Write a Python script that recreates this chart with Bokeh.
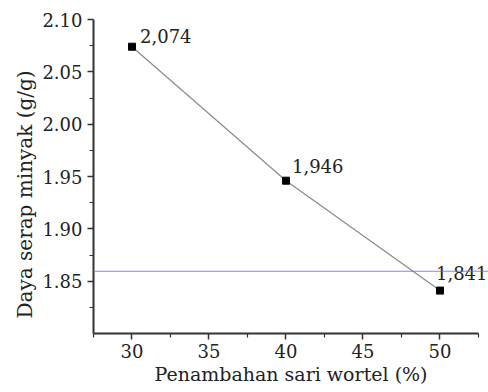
from bokeh.plotting import figure
from bokeh.models import FixedTicker, ColumnDataSource, BoxAnnotation, NumeralTickFormatter, Title
from bokeh.core.properties import value
from bokeh.embed import file_html
from bokeh.resources import INLINE

# data
wortel = [30, 40, 50]
daya_serap = [2.074, 1.946, 1.841]
labels = ["2,074", "1,946", "1,841"]
x_ticks = [30, 35, 40, 45, 50]
x_minor = [27.5, 32.5, 37.5, 42.5, 47.5, 52.5]
y_ticks = [1.85, 1.90, 1.95, 2.00, 2.05, 2.10]
y_minor = [1.825, 1.875, 1.925, 1.975, 2.025, 2.075]
stray_line_y = 1.8595

# label placement (screen pixels)
label_dx = [8, 6, -4]
label_dy = [-4, -8, -11]

FONT = "DejaVu Serif"
TXT = "#222222"

p = figure(width=488, height=392, output_backend="svg", toolbar_location=None,
           x_range=(27.5, 53.15), y_range=(1.80, 2.10),
           min_border_left=93, min_border_right=0, min_border_top=19, min_border_bottom=59)
p.outline_line_color = None
p.grid.visible = False
p.background_fill_color = "white"
p.border_fill_color = "white"

src = ColumnDataSource(dict(x=wortel, y=daya_serap, t=labels, dx=label_dx, dy=label_dy))
p.line("x", "y", source=src, line_color="#8a8a8a", line_width=1.2)
p.scatter("x", "y", source=src, marker="square", size=7, fill_color="black", line_color="black")
p.text("x", "y", text="t", source=src, x_offset="dx", y_offset="dy",
       text_font=value(FONT), text_font_size="18px", text_color=TXT,
       text_baseline="bottom", text_align="left")

for ax in (p.xaxis[0], p.yaxis[0]):
    ax.axis_line_color = "#333333"
    ax.axis_line_width = 2
    ax.major_tick_line_color = "#333333"
    ax.minor_tick_line_color = "#333333"
    ax.major_tick_line_width = 1.5
    ax.minor_tick_line_width = 1.2
    ax.major_tick_in = 0
    ax.major_tick_out = 6
    ax.minor_tick_in = 0
    ax.minor_tick_out = 4
    ax.major_label_text_font = FONT
    ax.major_label_text_font_size = "18px"
    ax.major_label_text_color = TXT
    ax.axis_label_text_font = FONT
    ax.axis_label_text_font_size = "19px"
    ax.axis_label_text_font_style = "normal"
    ax.axis_label_text_color = TXT

p.xaxis.bounds = (27.5, 52.5)
p.xaxis.ticker = FixedTicker(ticks=x_ticks, minor_ticks=x_minor)
p.yaxis.ticker = FixedTicker(ticks=y_ticks, minor_ticks=y_minor)
p.yaxis.formatter = NumeralTickFormatter(format="0.00")
p.xaxis.axis_label = "Penambahan sari wortel (%)"
p.xaxis.major_label_standoff = 4
p.yaxis.major_label_standoff = 5
p.xaxis.axis_label_standoff = 2

ytitle = Title(text="Daya serap minyak (g/g)", align="left", offset=15,
               text_font=FONT, text_font_size="20px", text_font_style="normal",
               text_color=TXT, standoff=6)
p.add_layout(ytitle, "left")

stray = BoxAnnotation(left=0, right=488, left_units="canvas", right_units="canvas",
                      top=stray_line_y + 0.0005, bottom=stray_line_y - 0.0005,
                      fill_color="#5b6cff", fill_alpha=0.8, line_alpha=0, level="overlay")
p.add_layout(stray)

open("out.html", "w").write(file_html(p, INLINE))
